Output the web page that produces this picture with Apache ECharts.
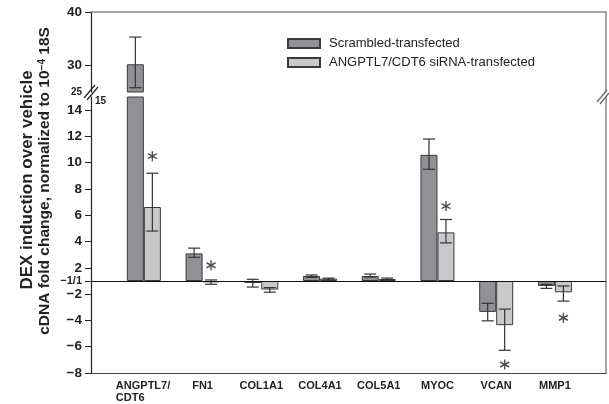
<!DOCTYPE html>
<html><head><meta charset="utf-8">
<script src="https://cdn.jsdelivr.net/npm/echarts@6/dist/echarts.min.js"></script>
<style>html,body{margin:0;padding:0;background:#fff}#c{width:609px;height:404px}</style>
</head><body><div id="c"></div>
<script>
// ---- data (fold-change values) ----
const categories = ['ANGPTL7/\nCDT6', 'FN1', 'COL1A1', 'COL4A1', 'COL5A1', 'MYOC', 'VCAN', 'MMP1'];
const seriesNames = ['Scrambled-transfected', 'ANGPTL7/CDT6 siRNA-transfected'];
const scrambled        = [30.2, 3.1, -1.15, 1.38, 1.38, 10.6, -3.35, -1.38];
const scrambledErrLow  = [25.8, 2.8, -1.46, 1.28, 1.30, 9.5, -4.03, -1.56];
const scrambledErrHigh = [35.3, 3.5, 1.13, 1.46, 1.53, 11.8, -2.70, -1.25];
const sirna            = [6.63, -1.1, -1.65, 1.18, 1.15, 4.7, -4.36, -1.86];
const sirnaErrLow      = [4.8, -1.25, -1.85, 1.08, 1.08, 3.9, -6.27, -2.53];
const sirnaErrHigh     = [9.2, 1.08, -1.50, 1.22, 1.22, 5.68, -3.14, -1.38];
const asterisks        = [10.5, 2.2, null, null, null, 6.7, -7.35, -3.8];
const upperTickLabels  = [40, 30, 25];
const upperTicks       = [40, 30];
const lowerTickLabels  = [14, 12, 10, 8, 6, 4, 2, 1, -2, -4, -6, -8];
const upperRange = [25, 40];
const lowerRange = [-8, 15];

// fold change axis: -1 and 1 share the baseline
const f = v => v >= 1 ? v - 1 : (v <= -1 ? v + 1 : 0);
const finv = t => t > 0 ? String(t + 1) : (t < 0 ? '\u2212' + (1 - t) : '\u22121/1');

const BAR_W = 17, CAP = 6;
const FONT = '"Liberation Sans", Arial, Helvetica, sans-serif';
const DARK = '#909195', LIGHT = '#c8c9cb', EDGE = '#3a3a3a', INK = '#222';

const chart = echarts.init(document.getElementById('c'), null, {renderer: 'canvas'});

function errRender(side) {
  return function (params, api) {
    const x = api.value(0), lo = api.value(1), hi = api.value(2);
    const a = api.coord([x, hi]), b = api.coord([x, lo]);
    const cx = a[0] + side * BAR_W / 2;
    const st = {stroke: '#333', lineWidth: 1.2};
    return {type: 'group', children: [
      {type: 'line', shape: {x1: cx, y1: a[1], x2: cx, y2: b[1]}, style: st},
      {type: 'line', shape: {x1: cx - CAP, y1: a[1], x2: cx + CAP, y2: a[1]}, style: st},
      {type: 'line', shape: {x1: cx - CAP, y1: b[1], x2: cx + CAP, y2: b[1]}, style: st}
    ]};
  };
}
function errData(lows, highs, upper) {
  const out = [];
  lows.forEach((lo, i) => {
    const hi = highs[i];
    const inUpper = lo >= upperRange[0];
    if (upper && inUpper) out.push([i, lo, hi]);
    if (!upper && !inUpper) out.push([i, f(lo), f(hi)]);
  });
  return out;
}

const xCommon = {type: 'value', min: -0.9, max: 7.87, splitLine: {show: false}};

const option = {
  animation: false,
  backgroundColor: '#fff',
  grid: [
    {left: 91, right: 3, top: 12, height: 80},
    {left: 91, right: 3, top: 97, height: 276}
  ],
  xAxis: [
    Object.assign({}, xCommon, {gridIndex: 0, position: 'top',
      axisLine: {show: true, onZero: false, lineStyle: {color: '#888', width: 1.5}},
      axisTick: {show: false}, axisLabel: {show: false}}),
    Object.assign({}, xCommon, {gridIndex: 1, position: 'bottom',
      axisLine: {show: true, onZero: false, lineStyle: {color: '#444', width: 1.2}},
      axisTick: {show: false},
      axisLabel: {
        customValues: categories.map((c, i) => i),
        formatter: v => {
          const c = categories[Math.round(v)];
          if (c.indexOf('\n') >= 0) return c.split('\n').map(s => '{l|' + s + '}').join('\n');
          return c;
        },
        color: INK, fontFamily: FONT, fontWeight: 'bold', fontSize: 11, margin: 7, lineHeight: 12,
        rich: {l: {width: 56, align: 'left', color: INK, fontFamily: FONT, fontWeight: 'bold', fontSize: 11, lineHeight: 12}}
      }})
  ],
  yAxis: [
    {gridIndex: 0, type: 'value', min: upperRange[0], max: upperRange[1], position: 'left',
      splitLine: {show: false},
      axisLine: {show: true, onZero: false, lineStyle: {color: INK, width: 1.2}},
      axisTick: {show: true, length: 6, customValues: upperTicks, lineStyle: {color: INK}},
      axisLabel: {customValues: upperTickLabels,
        formatter: v => v === upperRange[0] ? '{s|' + v + '}' : String(v),
        color: INK, fontFamily: FONT, fontWeight: 'bold', fontSize: 13.5, margin: 9,
        rich: {s: {fontSize: 10, fontWeight: 'bold', fontFamily: FONT, color: INK}}}},
    {gridIndex: 1, type: 'value', min: f(lowerRange[0]), max: f(lowerRange[1]), position: 'left',
      splitLine: {show: false},
      axisLine: {show: true, onZero: false, lineStyle: {color: INK, width: 1.2}},
      axisTick: {show: true, length: 6, customValues: lowerTickLabels.map(f), lineStyle: {color: INK}},
      axisLabel: {customValues: lowerTickLabels.map(f),
        formatter: t => t === 0 ? '{s|' + finv(t) + '}' : finv(t),
        color: INK, fontFamily: FONT, fontWeight: 'bold', fontSize: 13.5, margin: 9,
        rich: {s: {fontSize: 11, fontWeight: 'bold', fontFamily: FONT, color: INK}}}},
    {gridIndex: 0, type: 'value', position: 'right', splitLine: {show: false},
      axisLine: {show: true, onZero: false, lineStyle: {color: '#888', width: 1.5}},
      axisTick: {show: false}, axisLabel: {show: false}},
    {gridIndex: 1, type: 'value', position: 'right', splitLine: {show: false},
      axisLine: {show: true, onZero: false, lineStyle: {color: '#888', width: 1.5}},
      axisTick: {show: false}, axisLabel: {show: false}}
  ],
  legend: {
    orient: 'vertical', left: 287, top: 37, padding: 0, itemWidth: 32, itemHeight: 9, itemGap: 6,
    icon: 'rect', data: seriesNames,
    textStyle: {fontSize: 13, color: INK, fontFamily: FONT, padding: [0, 0, 0, 4]}
  },
  series: [
    {name: seriesNames[0], type: 'bar', xAxisIndex: 0, yAxisIndex: 0, barWidth: BAR_W, barGap: '0%',
      data: scrambled.map((v, i) => [i, v]), clip: true, z: 2,
      itemStyle: {color: DARK, borderColor: EDGE, borderWidth: 1}},
    {name: seriesNames[1], type: 'bar', xAxisIndex: 0, yAxisIndex: 0, barWidth: BAR_W, barGap: '0%',
      data: sirna.map((v, i) => [i, v]), clip: true, z: 2,
      itemStyle: {color: LIGHT, borderColor: EDGE, borderWidth: 1}},
    {name: seriesNames[0], type: 'bar', xAxisIndex: 1, yAxisIndex: 1, barWidth: BAR_W, barGap: '0%',
      data: scrambled.map((v, i) => [i, f(v)]), clip: true, z: 2,
      itemStyle: {color: DARK, borderColor: EDGE, borderWidth: 1}},
    {name: seriesNames[1], type: 'bar', xAxisIndex: 1, yAxisIndex: 1, barWidth: BAR_W, barGap: '0%',
      data: sirna.map((v, i) => [i, f(v)]), clip: true, z: 2,
      itemStyle: {color: LIGHT, borderColor: EDGE, borderWidth: 1},
      markLine: {silent: true, symbol: ['none', 'none'], label: {show: false},
        lineStyle: {color: '#111', width: 1.2, type: 'solid'}, data: [{yAxis: 0}]}},
    {type: 'custom', xAxisIndex: 0, yAxisIndex: 0, z: 4, renderItem: errRender(-1),
      data: errData(scrambledErrLow, scrambledErrHigh, true)},
    {type: 'custom', xAxisIndex: 1, yAxisIndex: 1, z: 4, renderItem: errRender(-1),
      data: errData(scrambledErrLow, scrambledErrHigh, false)},
    {type: 'custom', xAxisIndex: 1, yAxisIndex: 1, z: 4, renderItem: errRender(1),
      data: errData(sirnaErrLow, sirnaErrHigh, false)},
    {type: 'scatter', xAxisIndex: 1, yAxisIndex: 1, z: 5,
      symbol: 'path://M0,-5L0,5M-4.33,-2.5L4.33,2.5M-4.33,2.5L4.33,-2.5',
      symbolSize: [9, 10], symbolOffset: [BAR_W / 2, 0],
      itemStyle: {color: 'rgba(0,0,0,0)', borderColor: '#222', borderWidth: 1.5},
      data: asterisks.map((v, i) => v == null ? null : [i, f(v)]).filter(d => d)}
  ],
  graphic: [
    {type: 'text', x: 27, y: 180, rotation: Math.PI / 2, z: 10,
      style: {text: 'DEX induction over vehicle', font: 'bold 17px ' + FONT, fill: INK,
        align: 'center', verticalAlign: 'middle', textAlign: 'center', textVerticalAlign: 'middle'}},
    {type: 'text', x: 45, y: 181, rotation: Math.PI / 2, z: 10,
      style: {text: '{a|cDNA fold change, normalized to 10}{s|\u22124}{a| 18S}', fill: INK,
        align: 'center', verticalAlign: 'middle', textAlign: 'center', textVerticalAlign: 'middle',
        rich: {a: {font: 'bold 15.5px ' + FONT, fill: INK, verticalAlign: 'bottom'},
               s: {font: 'bold 10px ' + FONT, fill: INK, verticalAlign: 'bottom', padding: [0, 0, 6, 0]}}}},
    {type: 'text', x: 95, y: 101, z: 10,
      style: {text: '15', font: 'bold 10px ' + FONT, fill: INK, align: 'left', verticalAlign: 'middle',
        textAlign: 'left', textVerticalAlign: 'middle'}},
    {type: 'line', z: 10, shape: {x1: 84, y1: 98, x2: 95, y2: 85}, style: {stroke: INK, lineWidth: 1.2}},
    {type: 'line', z: 10, shape: {x1: 87, y1: 100, x2: 98, y2: 87}, style: {stroke: INK, lineWidth: 1.2}},
    {type: 'line', z: 10, shape: {x1: 597, y1: 102, x2: 607, y2: 90}, style: {stroke: '#666', lineWidth: 1.2}},
    {type: 'line', z: 10, shape: {x1: 600, y1: 104, x2: 609, y2: 93}, style: {stroke: '#666', lineWidth: 1.2}}
  ]
};
chart.setOption(option);
</script>
</body></html>
